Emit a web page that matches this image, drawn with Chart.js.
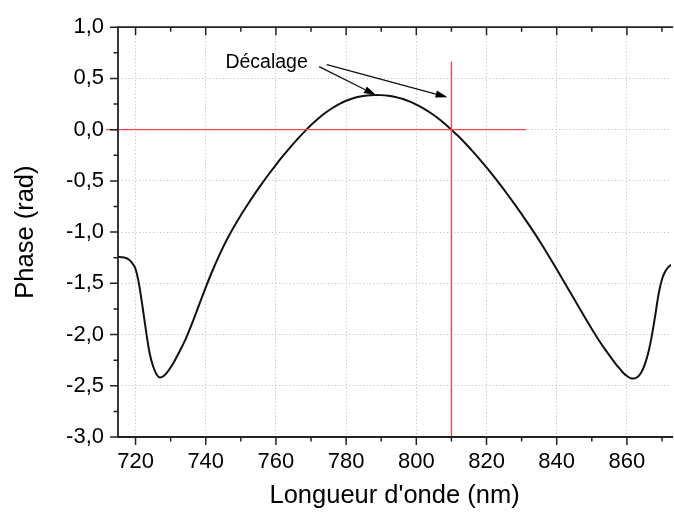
<!DOCTYPE html>
<html>
<head>
<meta charset="utf-8">
<script src="https://cdn.jsdelivr.net/npm/chart.js@4.4.1/dist/chart.umd.min.js"></script>
<style>
  html, body { margin: 0; padding: 0; background: #fff; }
  #wrap { width: 674px; height: 516px; position: relative; }
</style>
</head>
<body>
<div id="wrap"><canvas id="c"></canvas></div>
<script>
// ---- Data ----
const wavelengths = [715,716,717,718,719,720,721,722,723,724,725,726,727,728,729,730,731,732,734,736,738,740,742,744,746,748,750,752,754,756,758,760,762,764,766,768,770,772,774,776,778,780,782,784,786,788,790,792,794,796,798,800,802,804,806,808,810,812,814,816,818,820,822,824,826,828,830,832,834,836,838,840,842,844,846,848,850,852,854,856,857,858,859,860,861,862,863,864,865,866,867,868,869,870,871,872,872.6];
const phase = [-1.24,-1.245,-1.25,-1.265,-1.30,-1.36,-1.51,-1.73,-1.97,-2.18,-2.31,-2.39,-2.42,-2.405,-2.37,-2.32,-2.265,-2.20,-2.065,-1.90,-1.72,-1.54,-1.37,-1.215,-1.075,-0.95,-0.835,-0.728,-0.625,-0.527,-0.433,-0.343,-0.257,-0.175,-0.097,-0.024,0.045,0.107,0.162,0.209,0.249,0.282,0.307,0.324,0.334,0.338,0.337,0.331,0.319,0.301,0.276,0.245,0.208,0.165,0.116,0.061,0.000,-0.065,-0.135,-0.209,-0.287,-0.369,-0.454,-0.542,-0.633,-0.727,-0.824,-0.924,-1.027,-1.135,-1.247,-1.362,-1.479,-1.597,-1.715,-1.832,-1.946,-2.055,-2.155,-2.25,-2.295,-2.335,-2.375,-2.405,-2.425,-2.43,-2.415,-2.375,-2.30,-2.19,-2.03,-1.83,-1.61,-1.46,-1.38,-1.335,-1.32];

// reference lines (data units)
const hLineX = [711.6, 831.3];   // y = 0
const hLineY = [0, 0];
const vLineX = [810, 810];
const vLineY = [0.665, -3.0];

// tick values
const xMajorTicks = [720,740,760,780,800,820,840,860];
const xMinorTicks = [730,750,770,790,810,830,850,870];
const yMajorTicks = [-3,-2.5,-2,-1.5,-1,-0.5,0,0.5,1];
const yMinorTicks = [-2.75,-2.25,-1.75,-1.25,-0.75,-0.25,0.25,0.75];

// annotation (data units)
const annText = 'Décalage';
const annTextPos = [745.6, 0.606];
const arrowStarts = [[772.3, 0.615], [774.5, 0.635]];
const arrowEnds = [[788.5, 0.337], [808.9, 0.317]];

const FONT = "'Liberation Sans', Arial, Helvetica, sans-serif";

const curveData = wavelengths.map((w, i) => ({x: w, y: phase[i]}));
const hLine = hLineX.map((v, i) => ({x: v, y: hLineY[i]}));
const vLine = vLineX.map((v, i) => ({x: v, y: vLineY[i]}));

const isMajor = (arr, v) => arr.some(t => Math.abs(t - v) < 1e-6);

const framePlugin = {
  id: 'frameTicks',
  afterDraw(chart) {
    const {ctx, chartArea: a, scales: {x, y}} = chart;
    ctx.save();
    // ticks
    ctx.strokeStyle = '#222';
    ctx.lineWidth = 1.5;
    ctx.beginPath();
    x.ticks.forEach(t => {
      const px = x.getPixelForValue(t.value);
      const len = isMajor(xMajorTicks, t.value) ? 8 : 4.5;
      ctx.moveTo(px, a.bottom); ctx.lineTo(px, a.bottom + len);
      ctx.moveTo(px, a.top); ctx.lineTo(px, a.top + len);
    });
    y.ticks.forEach(t => {
      const py = y.getPixelForValue(t.value);
      const len = isMajor(yMajorTicks, t.value) ? 8 : 4.5;
      ctx.moveTo(a.left, py); ctx.lineTo(a.left - len, py);
    });
    ctx.stroke();
    // frame
    ctx.lineWidth = 1.8;
    ctx.beginPath();
    ctx.moveTo(a.right + 2, a.top); ctx.lineTo(a.left, a.top);
    ctx.lineTo(a.left, a.bottom); ctx.lineTo(a.right + 2, a.bottom);
    ctx.stroke();

    // annotation
    ctx.fillStyle = '#000';
    ctx.font = '19.5px ' + FONT;
    ctx.textBaseline = 'alphabetic';
    ctx.textAlign = 'left';
    ctx.fillText(annText, x.getPixelForValue(annTextPos[0]), y.getPixelForValue(annTextPos[1]));
    ctx.strokeStyle = '#111';
    ctx.lineWidth = 1.3;
    arrowStarts.forEach((s, i) => {
      const e = arrowEnds[i];
      const x0 = x.getPixelForValue(s[0]), y0 = y.getPixelForValue(s[1]);
      const x1 = x.getPixelForValue(e[0]), y1 = y.getPixelForValue(e[1]);
      const ang = Math.atan2(y1 - y0, x1 - x0);
      const L = 12, W = 3.6;
      const bx = x1 - L * Math.cos(ang), by = y1 - L * Math.sin(ang);
      ctx.beginPath();
      ctx.moveTo(x0, y0); ctx.lineTo(bx, by);
      ctx.stroke();
      ctx.beginPath();
      ctx.moveTo(x1, y1);
      ctx.lineTo(bx + W * Math.sin(ang), by - W * Math.cos(ang));
      ctx.lineTo(bx - W * Math.sin(ang), by + W * Math.cos(ang));
      ctx.closePath();
      ctx.fill();
    });
    ctx.restore();
  }
};

new Chart(document.getElementById('c'), {
  type: 'line',
  data: {
    datasets: [
      { data: hLine, borderColor: '#ff4545', borderWidth: 1.4, pointRadius: 0, clip: false, order: 0 },
      { data: vLine, borderColor: '#ff4545', borderWidth: 1.4, pointRadius: 0, clip: false, order: 1 },
      { data: curveData, borderColor: '#111', borderWidth: 2, pointRadius: 0, cubicInterpolationMode: 'monotone', order: 2 }
    ]
  },
  options: {
    responsive: true,
    maintainAspectRatio: false,
    animation: false,
    devicePixelRatio: 1,
    layout: { padding: { top: 21, right: 0, left: 0, bottom: 0 } },
    plugins: { legend: { display: false }, tooltip: { enabled: false } },
    scales: {
      x: {
        type: 'linear',
        min: 715,
        max: 872.6,
        afterBuildTicks: s => { s.ticks = [...xMajorTicks, ...xMinorTicks].sort((p, q) => p - q).map(v => ({value: v})); },
        afterFit: s => { s.height = 79; },
        ticks: {
          autoSkip: false, maxRotation: 0, padding: 12,
          color: '#000', font: { family: FONT, size: 22 },
          callback: v => isMajor(xMajorTicks, v) ? String(v) : ''
        },
        grid: {
          drawTicks: false,
          color: c => (c.tick && isMajor(xMajorTicks, c.tick.value)) ? '#c4c4c4' : 'rgba(0,0,0,0)',
          lineWidth: 1
        },
        border: { display: false, dash: [1.2, 2.3] },
        title: { display: true, text: "Longueur d'onde (nm)", color: '#000', font: { family: FONT, size: 25.5 }, padding: { top: 0, bottom: 5 } }
      },
      y: {
        type: 'linear',
        min: -3,
        max: 1,
        afterBuildTicks: s => { s.ticks = [...yMajorTicks, ...yMinorTicks].sort((p, q) => p - q).map(v => ({value: v})); },
        afterFit: s => { s.width = 118; },
        ticks: {
          autoSkip: false, padding: 14,
          color: '#000', font: { family: FONT, size: 22 },
          callback: v => isMajor(yMajorTicks, v) ? v.toFixed(1).replace('.', ',') : ''
        },
        grid: {
          drawTicks: false,
          color: c => (c.tick && isMajor(yMajorTicks, c.tick.value)) ? '#c4c4c4' : 'rgba(0,0,0,0)',
          lineWidth: 1
        },
        border: { display: false, dash: [1.2, 2.3] },
        title: { display: true, text: 'Phase (rad)', color: '#000', font: { family: FONT, size: 25.5 }, padding: { top: 11, bottom: 0 } }
      }
    }
  },
  plugins: [framePlugin]
});
</script>
</body>
</html>
